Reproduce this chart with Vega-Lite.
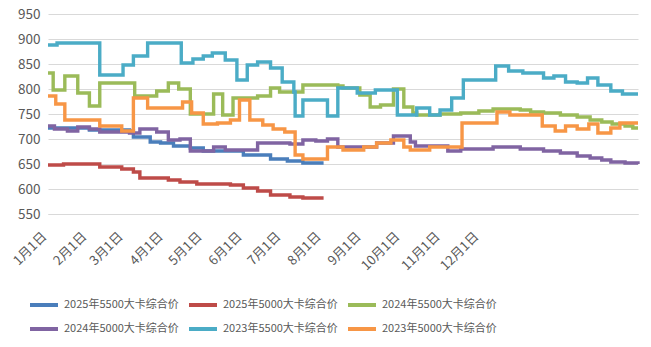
{
  "$schema": "https://vega.github.io/schema/vega-lite/v6.json",
  "width": 590,
  "height": 200,
  "autosize": {"type": "none"},
  "padding": {"left": 48, "top": 14, "right": 13, "bottom": 133},
  "background": "white",
  "config": {
    "view": {"stroke": null},
    "font": "Noto Sans CJK SC"
  },
  "datasets": {
    "prices": [
      {"s": "2025年5500大卡综合价", "d": 0, "v": 722},
      {"s": "2025年5500大卡综合价", "d": 32, "v": 718},
      {"s": "2025年5500大卡综合价", "d": 63, "v": 716},
      {"s": "2025年5500大卡综合价", "d": 66, "v": 704},
      {"s": "2025年5500大卡综合价", "d": 79, "v": 694},
      {"s": "2025年5500大卡综合价", "d": 87, "v": 692},
      {"s": "2025年5500大卡综合价", "d": 97, "v": 686},
      {"s": "2025年5500大卡综合价", "d": 110, "v": 682},
      {"s": "2025年5500大卡综合价", "d": 120, "v": 676},
      {"s": "2025年5500大卡综合价", "d": 151, "v": 668},
      {"s": "2025年5500大卡综合价", "d": 172, "v": 660},
      {"s": "2025年5500大卡综合价", "d": 185, "v": 656},
      {"s": "2025年5500大卡综合价", "d": 197, "v": 652},
      {"s": "2025年5500大卡综合价", "d": 213, "v": 652},

      {"s": "2025年5000大卡综合价", "d": 0, "v": 648},
      {"s": "2025年5000大卡综合价", "d": 12, "v": 650},
      {"s": "2025年5000大卡综合价", "d": 40, "v": 644},
      {"s": "2025年5000大卡综合价", "d": 57, "v": 640},
      {"s": "2025年5000大卡综合价", "d": 66, "v": 634},
      {"s": "2025年5000大卡综合价", "d": 71, "v": 622},
      {"s": "2025年5000大卡综合价", "d": 93, "v": 618},
      {"s": "2025年5000大卡综合价", "d": 102, "v": 614},
      {"s": "2025年5000大卡综合价", "d": 115, "v": 610},
      {"s": "2025年5000大卡综合价", "d": 141, "v": 608},
      {"s": "2025年5000大卡综合价", "d": 151, "v": 602},
      {"s": "2025年5000大卡综合价", "d": 162, "v": 596},
      {"s": "2025年5000大卡综合价", "d": 172, "v": 588},
      {"s": "2025年5000大卡综合价", "d": 187, "v": 584},
      {"s": "2025年5000大卡综合价", "d": 197, "v": 582},
      {"s": "2025年5000大卡综合价", "d": 213, "v": 582},

      {"s": "2024年5500大卡综合价", "d": 0, "v": 832},
      {"s": "2024年5500大卡综合价", "d": 4, "v": 798},
      {"s": "2024年5500大卡综合价", "d": 13, "v": 826},
      {"s": "2024年5500大卡综合价", "d": 23, "v": 792},
      {"s": "2024年5500大卡综合价", "d": 32, "v": 766},
      {"s": "2024年5500大卡综合价", "d": 40, "v": 812},
      {"s": "2024年5500大卡综合价", "d": 67, "v": 786},
      {"s": "2024年5500大卡综合价", "d": 84, "v": 796},
      {"s": "2024年5500大卡综合价", "d": 93, "v": 812},
      {"s": "2024年5500大卡综合价", "d": 101, "v": 800},
      {"s": "2024年5500大卡综合价", "d": 110, "v": 750},
      {"s": "2024年5500大卡综合价", "d": 128, "v": 790},
      {"s": "2024年5500大卡综合价", "d": 135, "v": 748},
      {"s": "2024年5500大卡综合价", "d": 143, "v": 782},
      {"s": "2024年5500大卡综合价", "d": 162, "v": 786},
      {"s": "2024年5500大卡综合价", "d": 172, "v": 802},
      {"s": "2024年5500大卡综合价", "d": 179, "v": 794},
      {"s": "2024年5500大卡综合价", "d": 197, "v": 808},
      {"s": "2024年5500大卡综合价", "d": 224, "v": 806},
      {"s": "2024年5500大卡综合价", "d": 228, "v": 802},
      {"s": "2024年5500大卡综合价", "d": 241, "v": 788},
      {"s": "2024年5500大卡综合价", "d": 249, "v": 764},
      {"s": "2024年5500大卡综合价", "d": 257, "v": 768},
      {"s": "2024年5500大卡综合价", "d": 267, "v": 800},
      {"s": "2024年5500大卡综合价", "d": 275, "v": 764},
      {"s": "2024年5500大卡综合价", "d": 282, "v": 752},
      {"s": "2024年5500大卡综合价", "d": 285, "v": 748},
      {"s": "2024年5500大卡综合价", "d": 303, "v": 750},
      {"s": "2024年5500大卡综合价", "d": 319, "v": 752},
      {"s": "2024年5500大卡综合价", "d": 333, "v": 756},
      {"s": "2024年5500大卡综合价", "d": 344, "v": 760},
      {"s": "2024年5500大卡综合价", "d": 365, "v": 758},
      {"s": "2024年5500大卡综合价", "d": 373, "v": 754},
      {"s": "2024年5500大卡综合价", "d": 383, "v": 752},
      {"s": "2024年5500大卡综合价", "d": 396, "v": 748},
      {"s": "2024年5500大卡综合价", "d": 409, "v": 744},
      {"s": "2024年5500大卡综合价", "d": 419, "v": 738},
      {"s": "2024年5500大卡综合价", "d": 428, "v": 734},
      {"s": "2024年5500大卡综合价", "d": 436, "v": 730},
      {"s": "2024年5500大卡综合价", "d": 446, "v": 726},
      {"s": "2024年5500大卡综合价", "d": 452, "v": 722},
      {"s": "2024年5500大卡综合价", "d": 456, "v": 722},

      {"s": "2024年5000大卡综合价", "d": 0, "v": 726},
      {"s": "2024年5000大卡综合价", "d": 5, "v": 720},
      {"s": "2024年5000大卡综合价", "d": 15, "v": 716},
      {"s": "2024年5000大卡综合价", "d": 23, "v": 724},
      {"s": "2024年5000大卡综合价", "d": 32, "v": 720},
      {"s": "2024年5000大卡综合价", "d": 40, "v": 714},
      {"s": "2024年5000大卡综合价", "d": 63, "v": 712},
      {"s": "2024年5000大卡综合价", "d": 71, "v": 720},
      {"s": "2024年5000大卡综合价", "d": 84, "v": 714},
      {"s": "2024年5000大卡综合价", "d": 93, "v": 698},
      {"s": "2024年5000大卡综合价", "d": 102, "v": 700},
      {"s": "2024年5000大卡综合价", "d": 110, "v": 676},
      {"s": "2024年5000大卡综合价", "d": 128, "v": 684},
      {"s": "2024年5000大卡综合价", "d": 137, "v": 678},
      {"s": "2024年5000大卡综合价", "d": 162, "v": 692},
      {"s": "2024年5000大卡综合价", "d": 187, "v": 690},
      {"s": "2024年5000大卡综合价", "d": 197, "v": 698},
      {"s": "2024年5000大卡综合价", "d": 207, "v": 696},
      {"s": "2024年5000大卡综合价", "d": 216, "v": 700},
      {"s": "2024年5000大卡综合价", "d": 224, "v": 684},
      {"s": "2024年5000大卡综合价", "d": 254, "v": 692},
      {"s": "2024年5000大卡综合价", "d": 267, "v": 706},
      {"s": "2024年5000大卡综合价", "d": 280, "v": 694},
      {"s": "2024年5000大卡综合价", "d": 284, "v": 686},
      {"s": "2024年5000大卡综合价", "d": 309, "v": 676},
      {"s": "2024年5000大卡综合价", "d": 319, "v": 680},
      {"s": "2024年5000大卡综合价", "d": 344, "v": 684},
      {"s": "2024年5000大卡综合价", "d": 365, "v": 680},
      {"s": "2024年5000大卡综合价", "d": 383, "v": 676},
      {"s": "2024年5000大卡综合价", "d": 396, "v": 672},
      {"s": "2024年5000大卡综合价", "d": 409, "v": 666},
      {"s": "2024年5000大卡综合价", "d": 419, "v": 662},
      {"s": "2024年5000大卡综合价", "d": 428, "v": 658},
      {"s": "2024年5000大卡综合价", "d": 435, "v": 654},
      {"s": "2024年5000大卡综合价", "d": 446, "v": 652},
      {"s": "2024年5000大卡综合价", "d": 456, "v": 650},

      {"s": "2023年5500大卡综合价", "d": 0, "v": 888},
      {"s": "2023年5500大卡综合价", "d": 7, "v": 892},
      {"s": "2023年5500大卡综合价", "d": 40, "v": 828},
      {"s": "2023年5500大卡综合价", "d": 58, "v": 848},
      {"s": "2023年5500大卡综合价", "d": 66, "v": 866},
      {"s": "2023年5500大卡综合价", "d": 77, "v": 892},
      {"s": "2023年5500大卡综合价", "d": 103, "v": 852},
      {"s": "2023年5500大卡综合价", "d": 112, "v": 860},
      {"s": "2023年5500大卡综合价", "d": 120, "v": 866},
      {"s": "2023年5500大卡综合价", "d": 127, "v": 872},
      {"s": "2023年5500大卡综合价", "d": 137, "v": 858},
      {"s": "2023年5500大卡综合价", "d": 146, "v": 818},
      {"s": "2023年5500大卡综合价", "d": 154, "v": 848},
      {"s": "2023年5500大卡综合价", "d": 162, "v": 854},
      {"s": "2023年5500大卡综合价", "d": 172, "v": 842},
      {"s": "2023年5500大卡综合价", "d": 181, "v": 814},
      {"s": "2023年5500大卡综合价", "d": 190, "v": 794},
      {"s": "2023年5500大卡综合价", "d": 191, "v": 746},
      {"s": "2023年5500大卡综合价", "d": 197, "v": 778},
      {"s": "2023年5500大卡综合价", "d": 216, "v": 746},
      {"s": "2023年5500大卡综合价", "d": 224, "v": 802},
      {"s": "2023年5500大卡综合价", "d": 239, "v": 792},
      {"s": "2023年5500大卡综合价", "d": 253, "v": 798},
      {"s": "2023年5500大卡综合价", "d": 270, "v": 748},
      {"s": "2023年5500大卡综合价", "d": 285, "v": 762},
      {"s": "2023年5500大卡综合价", "d": 295, "v": 748},
      {"s": "2023年5500大卡综合价", "d": 303, "v": 758},
      {"s": "2023年5500大卡综合价", "d": 312, "v": 782},
      {"s": "2023年5500大卡综合价", "d": 321, "v": 818},
      {"s": "2023年5500大卡综合价", "d": 346, "v": 846},
      {"s": "2023年5500大卡综合价", "d": 356, "v": 836},
      {"s": "2023年5500大卡综合价", "d": 367, "v": 832},
      {"s": "2023年5500大卡综合价", "d": 383, "v": 822},
      {"s": "2023年5500大卡综合价", "d": 391, "v": 826},
      {"s": "2023年5500大卡综合价", "d": 400, "v": 814},
      {"s": "2023年5500大卡综合价", "d": 409, "v": 812},
      {"s": "2023年5500大卡综合价", "d": 417, "v": 822},
      {"s": "2023年5500大卡综合价", "d": 425, "v": 808},
      {"s": "2023年5500大卡综合价", "d": 435, "v": 796},
      {"s": "2023年5500大卡综合价", "d": 444, "v": 790},
      {"s": "2023年5500大卡综合价", "d": 456, "v": 790},

      {"s": "2023年5000大卡综合价", "d": 0, "v": 786},
      {"s": "2023年5000大卡综合价", "d": 6, "v": 770},
      {"s": "2023年5000大卡综合价", "d": 13, "v": 738},
      {"s": "2023年5000大卡综合价", "d": 40, "v": 726},
      {"s": "2023年5000大卡综合价", "d": 57, "v": 716},
      {"s": "2023年5000大卡综合价", "d": 66, "v": 782},
      {"s": "2023年5000大卡综合价", "d": 77, "v": 762},
      {"s": "2023年5000大卡综合价", "d": 104, "v": 774},
      {"s": "2023年5000大卡综合价", "d": 111, "v": 752},
      {"s": "2023年5000大卡综合价", "d": 120, "v": 730},
      {"s": "2023年5000大卡综合价", "d": 131, "v": 732},
      {"s": "2023年5000大卡综合价", "d": 141, "v": 738},
      {"s": "2023年5000大卡综合价", "d": 148, "v": 778},
      {"s": "2023年5000大卡综合价", "d": 156, "v": 738},
      {"s": "2023年5000大卡综合价", "d": 166, "v": 728},
      {"s": "2023年5000大卡综合价", "d": 174, "v": 720},
      {"s": "2023年5000大卡综合价", "d": 183, "v": 714},
      {"s": "2023年5000大卡综合价", "d": 191, "v": 668},
      {"s": "2023年5000大卡综合价", "d": 197, "v": 660},
      {"s": "2023年5000大卡综合价", "d": 216, "v": 684},
      {"s": "2023年5000大卡综合价", "d": 228, "v": 678},
      {"s": "2023年5000大卡综合价", "d": 244, "v": 684},
      {"s": "2023年5000大卡综合价", "d": 254, "v": 692},
      {"s": "2023年5000大卡综合价", "d": 265, "v": 698},
      {"s": "2023年5000大卡综合价", "d": 275, "v": 684},
      {"s": "2023年5000大卡综合价", "d": 280, "v": 678},
      {"s": "2023年5000大卡综合价", "d": 295, "v": 684},
      {"s": "2023年5000大卡综合价", "d": 320, "v": 732},
      {"s": "2023年5000大卡综合价", "d": 347, "v": 754},
      {"s": "2023年5000大卡综合价", "d": 357, "v": 748},
      {"s": "2023年5000大卡综合价", "d": 382, "v": 726},
      {"s": "2023年5000大卡综合价", "d": 392, "v": 716},
      {"s": "2023年5000大卡综合价", "d": 400, "v": 726},
      {"s": "2023年5000大卡综合价", "d": 409, "v": 720},
      {"s": "2023年5000大卡综合价", "d": 418, "v": 730},
      {"s": "2023年5000大卡综合价", "d": 425, "v": 712},
      {"s": "2023年5000大卡综合价", "d": 435, "v": 722},
      {"s": "2023年5000大卡综合价", "d": 442, "v": 732},
      {"s": "2023年5000大卡综合价", "d": 456, "v": 732}
    ]
  },
  "data": {"name": "prices"},
  "mark": {"type": "line", "interpolate": "step-after", "strokeWidth": 3.4, "strokeJoin": "miter"},
  "encoding": {
    "x": {
      "field": "d",
      "type": "quantitative",
      "scale": {"domain": [0, 456], "nice": false, "zero": false},
      "axis": {
        "title": null,
        "values": [0, 31, 59, 90, 120, 151, 181, 212, 243, 273, 304, 334],
        "labelExpr": "(month(datetime(2023, 0, 1 + datum.value)) + 1) + '月1日'",
        "labelAngle": -45,
        "labelAlign": "right",
        "labelBaseline": "middle",
        "labelFontSize": 13,
        "labelColor": "#595959",
        "labelPadding": 20,
        "labelOffset": -4,
        "ticks": false,
        "grid": false,
        "domain": true,
        "domainColor": "#d9d9d9",
        "labelFlush": false,
        "labelOverlap": false,
        "labelBound": false
      }
    },
    "y": {
      "field": "v",
      "type": "quantitative",
      "scale": {"domain": [550, 950], "nice": false, "zero": false},
      "axis": {
        "title": null,
        "values": [550, 600, 650, 700, 750, 800, 850, 900, 950],
        "labelFontSize": 13.5,
        "labelColor": "#595959",
        "labelPadding": 8,
        "ticks": false,
        "domain": false,
        "grid": true,
        "gridColor": "#d9d9d9",
        "gridWidth": 1.2
      }
    },
    "color": {
      "field": "s",
      "type": "nominal",
      "scale": {
        "domain": ["2025年5500大卡综合价", "2025年5000大卡综合价", "2024年5500大卡综合价", "2024年5000大卡综合价", "2023年5500大卡综合价", "2023年5000大卡综合价"],
        "range": ["#4A7EBB", "#BE4B48", "#9BBB59", "#8064A2", "#4BACC6", "#F79646"]
      },
      "legend": {
        "title": null,
        "orient": "none",
        "legendX": -20,
        "legendY": 275,
        "direction": "horizontal",
        "columns": 3,
        "symbolType": "stroke",
        "symbolSize": 784,
        "symbolStrokeWidth": 4,
        "labelFontSize": 11,
        "labelColor": "#595959",
        "labelOffset": 4,
        "columnPadding": 2,
        "rowPadding": -4,
        "padding": 0,
        "labelLimit": 300
      }
    }
  }
}
